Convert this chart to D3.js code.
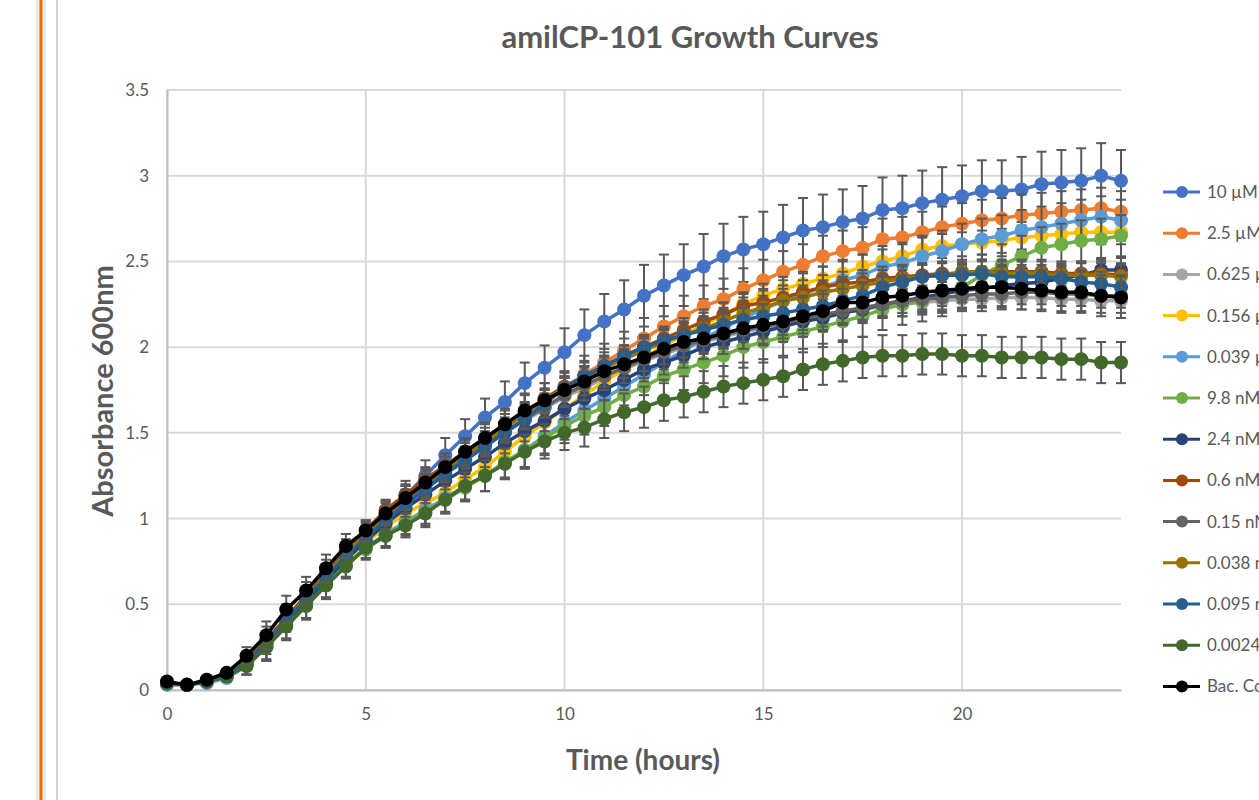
<!DOCTYPE html>
<html>
<head>
<meta charset="utf-8">
<script src="https://cdn.jsdelivr.net/npm/d3@7"></script>
<style>
  body { margin: 0; background: #fff; }
  svg { display: block; }
  text { font-family: Lato, "Open Sans", sans-serif; }
</style>
</head>
<body>
<svg id="chart" width="1259" height="800"></svg>
<script>
// Tiempos de lectura (horas), cada media hora
var tiempos = d3.range(0, 24.01, 0.5);

// Nombres y colores de cada serie
var nombres = ["10 µM", "2.5 µM", "0.625 µM", "0.156 µM", "0.039 µM", "9.8 nM", "2.4 nM",
    "0.6 nM", "0.15 nM", "0.038 nM", "0.095 nM", "0.0024 nM", "Bac. Control"];
var colores = ["#4472C4", "#ED7D31", "#A5A5A5", "#FFC000", "#5B9BD5", "#70AD47", "#264478",
    "#9E480E", "#636363", "#997300", "#255E91", "#43682B", "#000000"];

// Absorbancia de cada serie (t = 0 ... 24)
var s10uM = [0.04,0.03,0.05,0.08,0.15,0.27,0.40,0.53,0.66,0.78,
    0.89,1.01,1.13,1.25,1.37,1.48,1.59,1.68,1.79,1.88,
    1.97,2.07,2.15,2.22,2.30,2.36,2.42,2.47,2.53,2.57,
    2.60,2.64,2.68,2.70,2.73,2.75,2.80,2.81,2.84,2.86,
    2.88,2.91,2.91,2.92,2.95,2.96,2.97,3.00,2.97];
var s2_5uM = [0.04,0.03,0.05,0.09,0.17,0.29,0.42,0.55,0.68,0.81,
    0.93,1.04,1.13,1.22,1.30,1.38,1.46,1.54,1.62,1.69,
    1.76,1.84,1.91,1.98,2.05,2.12,2.18,2.24,2.28,2.34,
    2.39,2.44,2.48,2.53,2.56,2.58,2.63,2.64,2.67,2.70,
    2.72,2.74,2.75,2.77,2.78,2.79,2.80,2.81,2.79];
var s0_625uM = [0.04,0.03,0.05,0.09,0.16,0.28,0.41,0.54,0.67,0.79,
    0.90,1.00,1.09,1.18,1.26,1.34,1.42,1.50,1.57,1.64,
    1.71,1.76,1.82,1.87,1.92,1.96,2.00,2.03,2.06,2.09,
    2.11,2.13,2.16,2.18,2.20,2.22,2.24,2.25,2.26,2.27,
    2.28,2.28,2.29,2.29,2.29,2.28,2.28,2.27,2.27];
var s0_156uM = [0.03,0.03,0.05,0.08,0.15,0.27,0.40,0.52,0.64,0.76,
    0.86,0.95,1.03,1.09,1.15,1.23,1.30,1.39,1.48,1.56,
    1.64,1.72,1.80,1.87,1.94,2.01,2.07,2.13,2.19,2.25,
    2.30,2.34,2.37,2.40,2.43,2.47,2.50,2.53,2.57,2.59,
    2.60,2.61,2.62,2.64,2.65,2.66,2.67,2.67,2.67];
var s0_039uM = [0.03,0.03,0.04,0.07,0.14,0.25,0.38,0.50,0.62,0.73,
    0.83,0.91,0.98,1.05,1.12,1.19,1.25,1.32,1.40,1.48,
    1.56,1.63,1.70,1.77,1.84,1.91,1.98,2.05,2.11,2.17,
    2.22,2.27,2.31,2.35,2.39,2.42,2.47,2.49,2.53,2.56,
    2.60,2.63,2.65,2.68,2.70,2.72,2.74,2.76,2.74];
var s9_8nM = [0.04,0.03,0.05,0.08,0.14,0.26,0.38,0.50,0.62,0.73,
    0.82,0.90,0.97,1.04,1.11,1.18,1.25,1.33,1.40,1.47,
    1.54,1.60,1.65,1.72,1.77,1.83,1.87,1.91,1.95,2.00,
    2.03,2.06,2.09,2.12,2.15,2.18,2.22,2.25,2.27,2.30,
    2.35,2.42,2.48,2.53,2.58,2.60,2.62,2.63,2.65];
var s2_4nM = [0.04,0.03,0.05,0.08,0.15,0.27,0.40,0.52,0.64,0.76,
    0.87,0.97,1.06,1.14,1.22,1.29,1.36,1.44,1.51,1.57,
    1.64,1.70,1.75,1.81,1.87,1.91,1.95,2.00,2.03,2.06,
    2.09,2.12,2.15,2.17,2.20,2.22,2.25,2.27,2.29,2.31,
    2.33,2.34,2.36,2.37,2.38,2.40,2.42,2.45,2.45];
var s0_6nM = [0.04,0.03,0.05,0.09,0.17,0.29,0.42,0.55,0.68,0.81,
    0.93,1.05,1.14,1.23,1.31,1.39,1.47,1.55,1.62,1.70,
    1.77,1.83,1.89,1.95,2.00,2.05,2.10,2.15,2.19,2.24,
    2.26,2.29,2.32,2.35,2.37,2.38,2.40,2.41,2.42,2.43,
    2.43,2.44,2.44,2.44,2.44,2.43,2.43,2.43,2.42];
var s0_15nM = [0.04,0.03,0.05,0.09,0.16,0.28,0.41,0.54,0.67,0.79,
    0.90,1.01,1.10,1.19,1.27,1.35,1.43,1.51,1.58,1.65,
    1.72,1.78,1.83,1.88,1.93,1.97,2.01,2.04,2.07,2.10,
    2.12,2.14,2.17,2.19,2.21,2.23,2.25,2.27,2.28,2.29,
    2.30,2.31,2.31,2.32,2.32,2.31,2.31,2.30,2.30];
var s0_038nM = [0.04,0.03,0.05,0.09,0.16,0.28,0.41,0.54,0.67,0.80,
    0.91,1.02,1.12,1.21,1.29,1.37,1.45,1.53,1.61,1.69,
    1.76,1.82,1.88,1.93,1.98,2.03,2.07,2.11,2.15,2.20,
    2.23,2.27,2.29,2.32,2.34,2.36,2.38,2.40,2.41,2.42,
    2.44,2.44,2.43,2.43,2.43,2.42,2.42,2.42,2.41];
var s0_095nM = [0.04,0.03,0.05,0.08,0.16,0.28,0.41,0.53,0.66,0.78,
    0.89,0.99,1.08,1.17,1.26,1.34,1.42,1.50,1.58,1.67,
    1.76,1.83,1.89,1.95,2.00,2.04,2.07,2.10,2.13,2.16,
    2.18,2.20,2.22,2.24,2.27,2.30,2.35,2.38,2.41,2.42,
    2.42,2.43,2.41,2.41,2.41,2.40,2.38,2.37,2.35];
var s0_0024nM = [0.04,0.03,0.05,0.08,0.14,0.25,0.37,0.49,0.61,0.72,
    0.83,0.90,0.96,1.03,1.11,1.19,1.25,1.32,1.39,1.45,
    1.50,1.53,1.58,1.62,1.65,1.69,1.71,1.74,1.77,1.79,
    1.81,1.83,1.87,1.90,1.92,1.94,1.95,1.95,1.96,1.96,
    1.95,1.95,1.94,1.94,1.94,1.93,1.93,1.91,1.91];
var sControl = [0.05,0.03,0.06,0.10,0.20,0.32,0.47,0.58,0.71,0.84,
    0.93,1.03,1.12,1.21,1.30,1.39,1.47,1.55,1.63,1.69,
    1.75,1.80,1.86,1.90,1.94,1.99,2.03,2.05,2.08,2.11,
    2.13,2.15,2.18,2.21,2.26,2.26,2.29,2.30,2.32,2.33,
    2.34,2.35,2.35,2.34,2.33,2.32,2.32,2.30,2.29];

// Desviaciones (barras de error), tres perfiles
var errGrande = [0.01,0.01,0.01,0.02,0.03,0.04,0.05,0.06,0.07,0.07,
    0.08,0.08,0.09,0.09,0.10,0.10,0.11,0.12,0.12,0.13,
    0.14,0.15,0.16,0.17,0.18,0.18,0.18,0.19,0.19,0.19,
    0.19,0.19,0.19,0.19,0.19,0.19,0.19,0.19,0.19,0.19,
    0.18,0.18,0.18,0.19,0.19,0.19,0.19,0.19,0.18];
var errMedio = [0.01,0.01,0.01,0.02,0.05,0.08,0.08,0.08,0.08,0.07,
    0.06,0.07,0.07,0.08,0.08,0.08,0.09,0.09,0.10,0.10,
    0.10,0.11,0.11,0.11,0.12,0.12,0.12,0.12,0.12,0.12,
    0.12,0.12,0.12,0.12,0.12,0.12,0.12,0.12,0.12,0.12,
    0.12,0.12,0.12,0.12,0.12,0.12,0.12,0.12,0.12];
var errPequeno = [0.01,0.01,0.01,0.02,0.03,0.04,0.05,0.05,0.05,0.05,
    0.05,0.05,0.05,0.05,0.05,0.05,0.06,0.06,0.06,0.06,
    0.06,0.06,0.06,0.06,0.07,0.07,0.07,0.07,0.07,0.07,
    0.07,0.07,0.07,0.07,0.07,0.07,0.07,0.07,0.07,0.07,
    0.07,0.07,0.07,0.07,0.07,0.07,0.07,0.07,0.07];

var valores = [s10uM, s2_5uM, s0_625uM, s0_156uM, s0_039uM, s9_8nM, s2_4nM,
    s0_6nM, s0_15nM, s0_038nM, s0_095nM, s0_0024nM, sControl];
var errores = [errGrande, errMedio, errPequeno, errPequeno, errMedio, errMedio, errPequeno,
    errPequeno, errPequeno, errPequeno, errPequeno, errMedio, errMedio];

var ticksX = [0, 5, 10, 15, 20];
var ticksY = [0, 0.5, 1, 1.5, 2, 2.5, 3, 3.5];

const gris = "#595959";
const svg = d3.select("#chart");

// Bordes de la página a la izquierda
svg.append("rect").attr("x", 36).attr("y", 0).attr("width", 10).attr("height", 800).attr("fill", "#ececec");
svg.append("line").attr("x1", 41).attr("x2", 41).attr("y1", 0).attr("y2", 800)
    .attr("stroke", "#E46C0A").attr("stroke-width", 3);
svg.append("line").attr("x1", 57).attr("x2", 57).attr("y1", 0).attr("y2", 800)
    .attr("stroke", "#d4d4d4").attr("stroke-width", 2);

// Escalas
const x = d3.scaleLinear().domain([0, 24]).range([167, 1121]);
const y = d3.scaleLinear().domain([0, 3.5]).range([690, 90]);

// Rejilla
svg.append("g").selectAll("line").data(ticksY).enter().append("line")
    .attr("x1", x(0)).attr("x2", x(24)).attr("y1", d => y(d)).attr("y2", d => y(d))
    .attr("stroke", "#d9d9d9").attr("stroke-width", 2);
svg.append("g").selectAll("line").data(ticksX).enter().append("line")
    .attr("x1", d => x(d)).attr("x2", d => x(d)).attr("y1", y(3.5)).attr("y2", y(0))
    .attr("stroke", "#d9d9d9").attr("stroke-width", 2);

// Ejes
const ejeX = svg.append("g").attr("transform", "translate(0," + y(0) + ")")
    .call(d3.axisBottom(x).tickValues(ticksX).tickSize(0).tickPadding(18).tickFormat(d3.format("d")));
const ejeY = svg.append("g").attr("transform", "translate(" + x(0) + ",0)")
    .call(d3.axisLeft(y).tickValues(ticksY).tickSize(0).tickPadding(18).tickFormat(d => d));
[ejeX, ejeY].forEach(function (g) {
    g.select(".domain").attr("stroke", "#bfbfbf").attr("stroke-width", 2);
    g.selectAll("text").attr("fill", gris).attr("font-size", 17)
        .attr("font-family", "Lato, sans-serif");
});

// Series: barras de error, línea y marcadores
const linea = d3.line().x((d, i) => x(tiempos[i])).y(d => y(d));
for (let s = 0; s < valores.length; s++) {
    const g = svg.append("g");
    const datos = valores[s].map((v, i) => ({ t: tiempos[i], v: v, e: errores[s][i] }));
    const eb = g.append("g").attr("stroke", gris).attr("stroke-width", 2);
    eb.selectAll("line.v").data(datos).enter().append("line")
        .attr("x1", d => x(d.t)).attr("x2", d => x(d.t))
        .attr("y1", d => y(d.v - d.e)).attr("y2", d => y(d.v + d.e));
    eb.selectAll("line.top").data(datos).enter().append("line")
        .attr("x1", d => x(d.t) - 5).attr("x2", d => x(d.t) + 5)
        .attr("y1", d => y(d.v + d.e)).attr("y2", d => y(d.v + d.e));
    eb.selectAll("line.bot").data(datos).enter().append("line")
        .attr("x1", d => x(d.t) - 5).attr("x2", d => x(d.t) + 5)
        .attr("y1", d => y(d.v - d.e)).attr("y2", d => y(d.v - d.e));
    g.append("path").attr("d", linea(valores[s])).attr("fill", "none")
        .attr("stroke", colores[s]).attr("stroke-width", 3.5);
    g.selectAll("circle").data(datos).enter().append("circle")
        .attr("cx", d => x(d.t)).attr("cy", d => y(d.v)).attr("r", 7)
        .attr("fill", colores[s]);
}

// Títulos
svg.append("text").attr("x", 690).attr("y", 48).attr("text-anchor", "middle")
    .attr("font-size", 31).attr("font-weight", "bold").attr("fill", gris)
    .text("amilCP-101 Growth Curves");
svg.append("text").attr("x", 643).attr("y", 770).attr("text-anchor", "middle")
    .attr("font-size", 28).attr("font-weight", "bold").attr("fill", gris)
    .text("Time (hours)");
svg.append("text").attr("transform", "translate(113,391) rotate(-90)").attr("text-anchor", "middle")
    .attr("font-size", 29).attr("font-weight", "bold").attr("fill", gris)
    .text("Absorbance 600nm");

// Leyenda
const leyenda = svg.append("g").selectAll("g").data(nombres).enter().append("g")
    .attr("transform", (d, i) => "translate(1163," + (192 + i * 41.2) + ")");
leyenda.append("line").attr("x1", 0).attr("x2", 37).attr("stroke", (d, i) => colores[i]).attr("stroke-width", 3);
leyenda.append("circle").attr("cx", 19).attr("r", 6).attr("fill", (d, i) => colores[i]);
leyenda.append("text").attr("x", 44).attr("dy", "0.35em").attr("font-size", 17).attr("fill", gris)
    .text(d => d);
</script>
</body>
</html>
